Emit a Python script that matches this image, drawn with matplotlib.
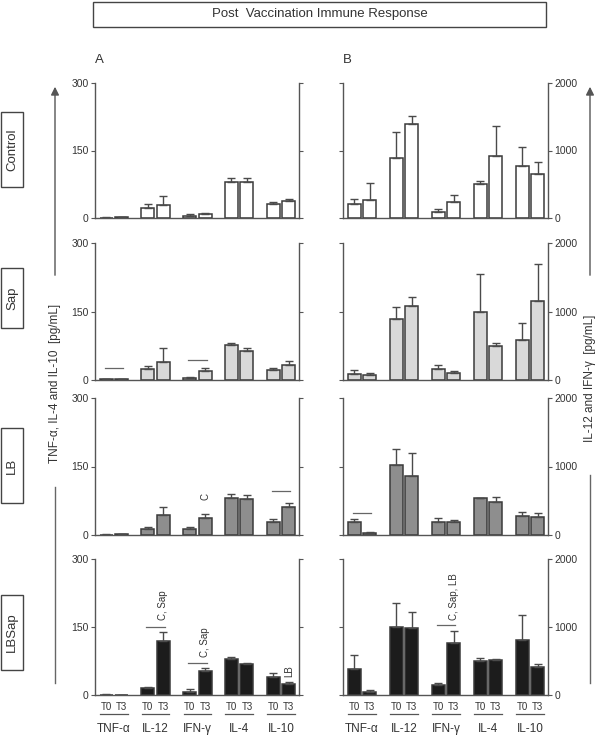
import matplotlib
matplotlib.use("Agg")
import matplotlib.pyplot as plt
import numpy as np
from matplotlib.patches import Rectangle, FancyArrowPatch
from matplotlib.lines import Line2D
import matplotlib.transforms as mtransforms

plt.rcParams['font.family'] = ['Liberation Sans', 'DejaVu Sans']

cytokines = ["TNF-\u03b1", "IL-12", "IFN-\u03b3", "IL-4", "IL-10"]
groups = ["Control", "Sap", "LB", "LBSap"]
bar_colors = {"Control": "#ffffff", "Sap": "#d9d9d9", "LB": "#8e8e8e", "LBSap": "#1c1c1c"}

# panel A  (pg/mL, 0-300)
a_t0 = {"Control": [1, 22, 5, 80, 32], "Sap": [1.5, 24, 5, 76, 22],
        "LB": [1, 13, 13, 82, 28], "LBSap": [1, 14.6, 7.3, 80, 39.5]}
a_t0_err = {"Control": [0.5, 9, 4, 10, 4.5], "Sap": [0.5, 6, 2, 4, 3.5],
            "LB": [0.5, 4, 5, 7, 6], "LBSap": [0.5, 3.6, 5, 3, 8]}
a_t3 = {"Control": [1.5, 29, 9.6, 80, 37.6], "Sap": [2, 40, 20, 63.5, 33],
        "LB": [1.5, 44.6, 37, 78, 61.5], "LBSap": [0.5, 119, 53.4, 68, 23.4]}
a_t3_err = {"Control": [0.5, 20, 2.5, 10, 4.5], "Sap": [1, 30, 5.5, 6, 9],
            "LB": [0.5, 17, 10, 9, 8.5], "LBSap": [0.3, 19, 7, 2, 5]}

# panel B  (pg/mL, 0-2000)
b_t0 = {"Control": [201, 885, 88, 506, 771], "Sap": [89, 897, 163, 1000, 586],
        "LB": [186, 1029, 196, 534, 275], "LBSap": [385, 1000, 146, 498, 815]}
b_t0_err = {"Control": [80, 383, 40, 40, 276], "Sap": [54, 162, 54, 547, 242],
            "LB": [49, 225, 49, 10, 54], "LBSap": [200, 356, 34, 48, 365]}
b_t3 = {"Control": [265, 1386, 236, 914, 649], "Sap": [74, 1074, 103, 498, 1148],
        "LB": [25, 858, 186, 480, 270], "LBSap": [39, 980, 766, 517, 415]}
b_t3_err = {"Control": [250, 132, 103, 442, 177], "Sap": [34, 133, 35, 44, 552],
            "LB": [14, 338, 30, 78, 44], "LBSap": [29, 240, 171, 10, 48]}

# significance bars and letters: (panel, group, cytokine index, level[, text])
sig_lines = [("A", "Sap", 0, 26), ("A", "Sap", 2, 44.5), ("A", "LB", 4, 96.6),
             ("A", "LBSap", 1, 150.7), ("A", "LBSap", 2, 71),
             ("B", "LB", 0, 324), ("B", "LBSap", 2, 1024)]
sig_text = [("A", "LB", 2, 76, "C"), ("A", "LBSap", 1, 165, "C, Sap"),
            ("A", "LBSap", 2, 84, "C, Sap"), ("A", "LBSap", 4, 40, "LB"),
            ("B", "LBSap", 2, 1098, "C, Sap, LB")]

W, H = 602, 736
fig = plt.figure(figsize=(W / 100, H / 100), dpi=100)
fig.patch.set_facecolor("white")


def rect(x0, x1, ytop, ybot):
    return [x0 / W, 1 - ybot / H, (x1 - x0) / W, (ybot - ytop) / H]


def fy(y):
    return 1 - y / H


rows = {"Control": (83, 218), "Sap": (243, 380), "LB": (398, 535), "LBSap": (559, 695)}
cols = {"A": (95, 299), "B": (343, 548)}
panel_data = {"A": (a_t0, a_t0_err, a_t3, a_t3_err, 300, [0, 150, 300]),
              "B": (b_t0, b_t0_err, b_t3, b_t3_err, 2000, [0, 1000, 2000])}

spine_c = "#555555"
txt_c = "#333333"
x = np.arange(len(cytokines))
off, bw = 0.185, 0.31
axes = {}

for col, (x0, x1) in cols.items():
    t0, t0e, t3, t3e, ymax, ticks = panel_data[col]
    for g in groups:
        ytop, ybot = rows[g]
        ax = fig.add_axes(rect(x0, x1, ytop, ybot))
        axes[(col, g)] = ax
        ekw = dict(ecolor="#4a4a4a", elinewidth=1, capsize=3, capthick=1)
        ax.bar(x - off, t0[g], bw, color=bar_colors[g], edgecolor="#3a3a3a", linewidth=1.1,
               yerr=[np.zeros(5), t0e[g]], error_kw=ekw, zorder=2)
        ax.bar(x + off, t3[g], bw, color=bar_colors[g], edgecolor="#3a3a3a", linewidth=1.1,
               yerr=[np.zeros(5), t3e[g]], error_kw=ekw, zorder=2)
        ax.set_xlim(-0.45, 4.43)
        ax.set_ylim(0, ymax)
        ax.set_yticks(ticks)
        ax.spines["top"].set_visible(False)
        for s in ["left", "right", "bottom"]:
            ax.spines[s].set_color(spine_c)
            ax.spines[s].set_linewidth(1)
        ax.tick_params(axis="y", direction="out", length=3, color=spine_c, labelsize=7.5,
                       labelcolor=txt_c, left=True, right=True,
                       labelleft=(col == "A"), labelright=(col == "B"), pad=1.5)
        if g == "LBSap":
            ax.set_xticks(np.concatenate([x - off, x + off]))
            ax.set_xticklabels(["T0"] * 5 + ["T3"] * 5)
            ax.tick_params(axis="x", length=0, labelsize=7, labelcolor=txt_c, pad=5)
            trans = mtransforms.blended_transform_factory(ax.transData, fig.transFigure)
            for i, name in enumerate(cytokines):
                ax.add_line(Line2D([i - 0.33, i + 0.33], [fy(714), fy(714)], transform=trans,
                                   color="#555555", lw=0.9, clip_on=False))
                ax.text(i, fy(729), name, transform=trans, ha="center", va="center",
                        fontsize=8.5, color=txt_c)
        else:
            ax.set_xticks([])

for col, g, i, lvl in sig_lines:
    ax = axes[(col, g)]
    ax.plot([i - 0.22, i + 0.22], [lvl, lvl], color="#666666", lw=0.9, clip_on=False)
for col, g, i, lvl, t in sig_text:
    ax = axes[(col, g)]
    ax.text(i + off, lvl, t, rotation=90, ha="center", va="bottom", fontsize=7, color=txt_c)

# panel letters and title
fig.text(95 / W, fy(60), "A", fontsize=9.5, color=txt_c, ha="left", va="center")
fig.text(343 / W, fy(60), "B", fontsize=9.5, color=txt_c, ha="left", va="center")
fig.add_artist(Rectangle((93 / W, fy(27)), (546 - 93) / W, 25 / H, transform=fig.transFigure,
                         facecolor="white", edgecolor="#444444", lw=1))
fig.text(319.5 / W, fy(14.5), "Post  Vaccination Immune Response", ha="center", va="center",
         fontsize=9.5, color=txt_c)

# group boxes
box_pos = {"Control": (112, 187), "Sap": (268, 328), "LB": (428, 503), "LBSap": (595, 670)}
for g, (yt, yb) in box_pos.items():
    fig.add_artist(Rectangle((1 / W, fy(yb)), 22 / W, (yb - yt) / H, transform=fig.transFigure,
                             facecolor="white", edgecolor="#444444", lw=1))
    fig.text(12 / W, fy((yt + yb) / 2), g, rotation=90, ha="center", va="center",
             fontsize=9.5, color=txt_c)

# side axis labels with arrows
for xa, lab, ymid, seg in [(55, "TNF-\u03b1, IL-4 and IL-10  [pg/mL]", 383, (487, 683)),
                           (590, "IL-12 and IFN-\u03b3  [pg/mL]", 378, (475, 683))]:
    fig.add_artist(FancyArrowPatch((xa / W, fy(278)), (xa / W, fy(84)), transform=fig.transFigure,
                                   arrowstyle="-|>", mutation_scale=12, color="#555555", lw=1))
    fig.add_artist(Line2D([xa / W, xa / W], [fy(seg[0]), fy(seg[1])], transform=fig.transFigure,
                          color="#666666", lw=1))
    fig.text(xa / W, fy(ymid), lab, rotation=90, ha="center", va="center", fontsize=8.5, color=txt_c)

fig.savefig("out.png", dpi=100)
